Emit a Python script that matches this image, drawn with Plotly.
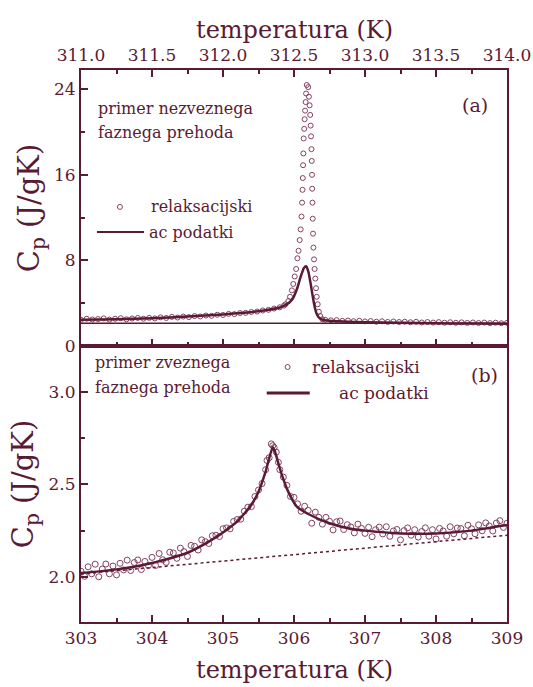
import plotly.graph_objects as go

# ---------------- panel (a): first-order transition ----------------
relax_a_T = [311.00, 311.04, 311.08, 311.12, 311.16, 311.20, 311.24, 311.28, 311.32, 311.36,
             311.40, 311.44, 311.48, 311.52, 311.56, 311.60, 311.64, 311.68, 311.72, 311.76,
             311.80, 311.84, 311.88, 311.92, 311.96, 312.00, 312.04, 312.08, 312.12, 312.16,
             312.20, 312.24, 312.28, 312.32, 312.36, 312.40, 312.43,
             312.44, 312.46, 312.472, 312.485, 312.495, 312.505, 312.515, 312.524, 312.532, 312.540,
             312.547, 312.553, 312.557, 312.560, 312.562, 312.564, 312.566, 312.568, 312.572, 312.575,
             312.578, 312.582, 312.585, 312.590,
             312.600, 312.605, 312.610, 312.614, 312.617, 312.620, 312.623, 312.625, 312.627, 312.628,
             312.630, 312.632, 312.634, 312.637, 312.641, 312.645, 312.650, 312.655, 312.660, 312.667,
             312.675, 312.685, 312.700,
             312.72, 312.76, 312.80, 312.84, 312.88, 312.92, 312.96, 313.00, 313.04, 313.08,
             313.12, 313.16, 313.20, 313.24, 313.28, 313.32, 313.36, 313.40, 313.44, 313.48,
             313.52, 313.56, 313.60, 313.64, 313.68, 313.72, 313.76, 313.80, 313.84, 313.88,
             313.92, 313.96, 314.00]
relax_a_Cp = [2.45, 2.55, 2.48, 2.52, 2.58, 2.47, 2.55, 2.60, 2.50, 2.57,
              2.62, 2.55, 2.63, 2.58, 2.68, 2.62, 2.72, 2.66, 2.75, 2.70,
              2.80, 2.76, 2.85, 2.82, 2.92, 2.90, 3.00, 2.98, 3.08, 3.10,
              3.18, 3.22, 3.32, 3.38, 3.50, 3.62, 3.78,
              3.9, 4.2, 4.6, 5.2, 5.8, 6.5, 7.2, 8.2, 8.9, 9.9,
              10.9, 12.1, 13.4, 14.6, 15.7, 16.9, 18.0, 19.4, 20.3, 21.2,
              22.0, 22.8, 23.6, 24.4,
              24.2, 23.3, 22.5, 21.6, 20.6, 19.6, 18.4, 17.3, 16.0, 14.7,
              13.4, 11.9, 10.5, 9.2, 8.1, 7.2, 6.3, 5.4, 4.6, 3.9,
              3.2, 2.8, 2.5,
              2.45, 2.40, 2.42, 2.35, 2.38, 2.32, 2.36, 2.30, 2.33, 2.27,
              2.31, 2.25, 2.29, 2.24, 2.27, 2.22, 2.26, 2.20, 2.24, 2.19,
              2.23, 2.18, 2.22, 2.17, 2.21, 2.16, 2.20, 2.15, 2.19, 2.14,
              2.18, 2.13, 2.17]

ac_a_T = [311.0, 311.25, 311.5, 311.75, 312.0, 312.15, 312.3, 312.4, 312.45, 312.49,
          312.52, 312.55, 312.57, 312.585, 312.60, 312.615, 312.63, 312.645, 312.66, 312.68,
          312.70, 312.75, 312.85, 313.0, 313.25, 313.5, 313.75, 314.0]
ac_a_Cp = [2.45, 2.5, 2.6, 2.75, 2.95, 3.1, 3.35, 3.6, 3.9, 4.4,
           5.3, 6.6, 7.3, 7.45, 7.0, 6.0, 4.8, 3.7, 3.0, 2.6,
           2.45, 2.35, 2.28, 2.22, 2.17, 2.13, 2.1, 2.08]

base_a_T = [311.0, 314.0]
base_a_Cp = [2.12, 2.12]

# ---------------- panel (b): continuous transition ----------------
relax_b_T = [303.00, 303.05, 303.10, 303.15, 303.20, 303.25, 303.30, 303.35, 303.40, 303.45,
             303.50, 303.55, 303.60, 303.65, 303.70, 303.75, 303.80, 303.85, 303.90, 303.95,
             304.00, 304.05, 304.10, 304.15, 304.20, 304.25, 304.30, 304.35, 304.40, 304.45,
             304.50, 304.55, 304.60, 304.65, 304.70, 304.75, 304.80, 304.85, 304.90, 304.95,
             305.00, 305.05, 305.10, 305.15, 305.20, 305.25, 305.30, 305.35, 305.40, 305.45,
             305.50, 305.55, 305.60, 305.65, 305.70, 305.75, 305.80, 305.85, 305.90, 305.95,
             306.00, 306.05, 306.10, 306.15, 306.20, 306.25, 306.30, 306.35, 306.40, 306.45,
             306.50, 306.55, 306.60, 306.65, 306.70, 306.75, 306.80, 306.85, 306.90, 306.95,
             307.00, 307.05, 307.10, 307.15, 307.20, 307.25, 307.30, 307.35, 307.40, 307.45,
             307.50, 307.55, 307.60, 307.65, 307.70, 307.75, 307.80, 307.85, 307.90, 307.95,
             308.00, 308.05, 308.10, 308.15, 308.20, 308.25, 308.30, 308.35, 308.40, 308.45,
             308.50, 308.55, 308.60, 308.65, 308.70, 308.75, 308.80, 308.85, 308.90, 308.95,
             309.00, 305.62, 305.68, 305.72, 305.78]
relax_b_Cp = [2.030, 2.002, 2.054, 2.016, 2.068, 2.000, 2.042, 2.069, 2.016, 2.058,
              2.010, 2.073, 2.037, 2.090, 2.034, 2.077, 2.091, 2.039, 2.083, 2.061,
              2.105, 2.061, 2.126, 2.092, 2.078, 2.133, 2.129, 2.100, 2.155, 2.136,
              2.110, 2.170, 2.165, 2.145, 2.200, 2.190, 2.180, 2.222, 2.225, 2.218,
              2.260, 2.265, 2.260, 2.300, 2.310, 2.312, 2.355, 2.377, 2.380, 2.435,
              2.470, 2.505, 2.580, 2.645, 2.710, 2.675, 2.580, 2.540, 2.495, 2.435,
              2.430, 2.395, 2.355, 2.382, 2.360, 2.290, 2.350, 2.322, 2.285, 2.322,
              2.300, 2.254, 2.298, 2.302, 2.256, 2.282, 2.270, 2.238, 2.285, 2.262,
              2.235, 2.268, 2.217, 2.255, 2.269, 2.232, 2.271, 2.219, 2.248, 2.256,
              2.200, 2.250, 2.265, 2.225, 2.255, 2.215, 2.245, 2.265, 2.220, 2.255,
              2.205, 2.262, 2.248, 2.220, 2.271, 2.233, 2.264, 2.261, 2.222, 2.279,
              2.260, 2.233, 2.281, 2.249, 2.292, 2.275, 2.248, 2.291, 2.304, 2.267,
              2.290, 2.630, 2.720, 2.700, 2.620]

ac_b_T = [303.0, 303.5, 304.0, 304.5, 304.8, 305.0, 305.2, 305.4, 305.5, 305.6,
          305.7, 305.73, 305.79, 305.84, 305.92, 306.04, 306.2, 306.5, 306.8, 307.0,
          307.5, 308.0, 308.5, 309.0]
ac_b_Cp = [2.02, 2.04, 2.075, 2.13, 2.19, 2.24, 2.30, 2.39, 2.46, 2.57,
           2.70, 2.68, 2.60, 2.54, 2.46, 2.38, 2.34, 2.29, 2.26, 2.25,
           2.235, 2.235, 2.25, 2.28]

base_b_T = [303.0, 309.0]
base_b_Cp = [2.015, 2.225]

# ---------------- styling ----------------
C = "#5a1a33"
CM = "#83425f"
FONT = "DejaVu Serif"

fig = go.Figure()
fig.add_trace(go.Scatter(x=relax_a_T, y=relax_a_Cp, mode="markers", xaxis="x", yaxis="y",
                         marker=dict(symbol="circle-open", size=5, color=CM, line=dict(width=1, color=CM)),
                         showlegend=False))
fig.add_trace(go.Scatter(x=base_a_T, y=base_a_Cp, mode="lines", xaxis="x", yaxis="y",
                         line=dict(color=C, width=1.5), showlegend=False))
fig.add_trace(go.Scatter(x=ac_a_T, y=ac_a_Cp, mode="lines", xaxis="x", yaxis="y",
                         line=dict(color=C, width=2.5, shape="spline", smoothing=0.6), showlegend=False))

fig.add_trace(go.Scatter(x=relax_b_T, y=relax_b_Cp, mode="markers", xaxis="x2", yaxis="y2",
                         marker=dict(symbol="circle-open", size=6, color=CM, line=dict(width=1, color=CM)),
                         showlegend=False))
fig.add_trace(go.Scatter(x=base_b_T, y=base_b_Cp, mode="lines", xaxis="x2", yaxis="y2",
                         line=dict(color=C, width=1.5, dash="dot"), showlegend=False))
fig.add_trace(go.Scatter(x=ac_b_T, y=ac_b_Cp, mode="lines", xaxis="x2", yaxis="y2",
                         line=dict(color=C, width=2.5, shape="spline", smoothing=0.6), showlegend=False))

axis_common = dict(showgrid=False, zeroline=False, showline=True, linecolor=C, linewidth=2,
                   ticks="inside", ticklen=7, tickwidth=1.5, tickcolor=C, automargin=False,
                   tickfont=dict(family=FONT, size=17, color=C))

fig.update_layout(
    width=533, height=687,
    margin=dict(l=81, r=26, t=70, b=65),
    paper_bgcolor="white", plot_bgcolor="white",
    font=dict(family=FONT, color=C),
    xaxis=dict(axis_common, domain=[0, 1], anchor="y", side="top", range=[311, 314],
               tick0=311, dtick=0.5, tickformat=".1f", mirror="ticks",
               minor=dict(dtick=0.25, ticks="inside", ticklen=4, tickcolor=C, tickwidth=1.5)),
    yaxis=dict(axis_common, domain=[0.5, 1], anchor="x", range=[0, 25.8], tick0=0, dtick=8,
               mirror=True,
               minor=dict(dtick=4, ticks="inside", ticklen=4, tickcolor=C, tickwidth=1.5),
               title=dict(text="C<sub>p</sub> (J/gK)", font=dict(family=FONT, size=29, color=C), standoff=6)),
    xaxis2=dict(axis_common, domain=[0, 1], anchor="y2", side="bottom", range=[303, 309],
                tick0=303, dtick=1, mirror=True,
                minor=dict(dtick=0.5, ticks="inside", ticklen=4, tickcolor=C, tickwidth=1.5)),
    yaxis2=dict(axis_common, domain=[0, 0.5], anchor="x2", range=[1.755, 3.25], tick0=2.0, dtick=0.5,
                tickformat=".1f", mirror=True,
                minor=dict(dtick=0.25, ticks="inside", ticklen=4, tickcolor=C, tickwidth=1.5),
                title=dict(text="C<sub>p</sub> (J/gK)", font=dict(family=FONT, size=29, color=C), standoff=6)),
)

def note(text, x, y, ref, size=16, xanchor="left"):
    fig.add_annotation(text=text, x=x, y=y, xref=ref[0] + " domain", yref=ref[1] + " domain",
                       showarrow=False, xanchor=xanchor, yanchor="middle",
                       font=dict(family=FONT, size=size, color=C))

# x-axis titles (top of panel a, bottom of panel b)
note("temperatura (K)", 0.502, 1.145, ("x", "y"), size=24, xanchor="center")
note("temperatura (K)", 0.502, -0.174, ("x2", "y2"), size=24, xanchor="center")

# panel (a) texts and key
note("primer nezveznega", 0.035, 0.862, ("x", "y"))
note("faznega prehoda", 0.035, 0.775, ("x", "y"))
note("(a)", 0.924, 0.873, ("x", "y"), size=19, xanchor="center")
note("relaksacijski", 0.160, 0.504, ("x", "y"))
note("ac podatki", 0.155, 0.413, ("x", "y"))
fig.add_shape(type="line", xref="x domain", yref="y domain", x0=0.0375, x1=0.148, y0=0.413, y1=0.413,
              line=dict(color=C, width=2))
fig.add_shape(type="circle", xref="x domain", yref="y domain", xsizemode="pixel", ysizemode="pixel",
              xanchor=0.0914, yanchor=0.504, x0=-2.5, x1=2.5, y0=-2.5, y1=2.5,
              line=dict(color=CM, width=1))

# panel (b) texts and key
note("primer zveznega", 0.027, 0.942, ("x2", "y2"))
note("faznega prehoda", 0.027, 0.851, ("x2", "y2"))
note("(b)", 0.947, 0.895, ("x2", "y2"), size=19, xanchor="center")
note("relaksacijski", 0.537, 0.924, ("x2", "y2"), size=17)
note("ac podatki", 0.600, 0.830, ("x2", "y2"), size=17)
fig.add_shape(type="line", xref="x2 domain", yref="y2 domain", x0=0.436, x1=0.537, y0=0.830, y1=0.830,
              line=dict(color=C, width=3))
fig.add_shape(type="circle", xref="x2 domain", yref="y2 domain", xsizemode="pixel", ysizemode="pixel",
              xanchor=0.485, yanchor=0.924, x0=-2.5, x1=2.5, y0=-2.5, y1=2.5,
              line=dict(color=CM, width=1))

fig.write_html("out.html")
